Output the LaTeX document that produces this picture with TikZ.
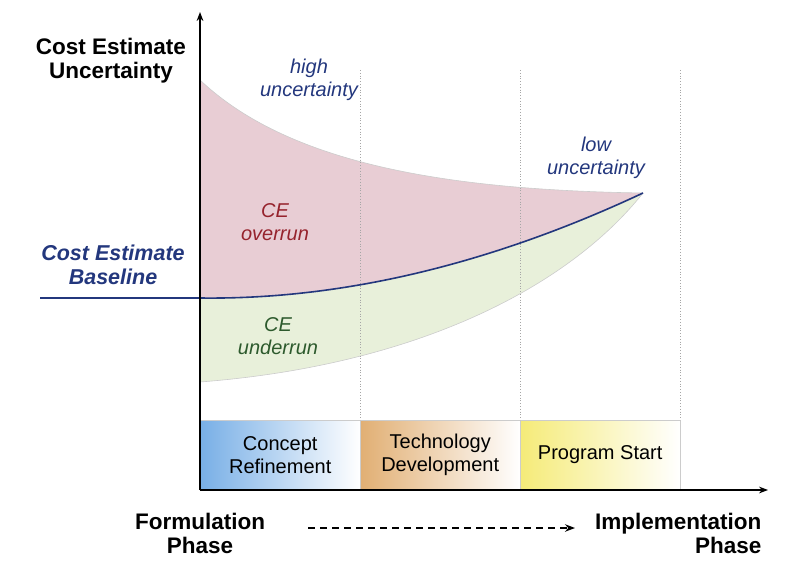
\documentclass[tikz,border=0pt]{standalone}
\usepackage{fontspec}
\setmainfont{Liberation Sans}
\usetikzlibrary{arrows.meta}
\definecolor{navy}{RGB}{35,55,125}
\definecolor{ovr}{RGB}{150,35,45}
\definecolor{und}{RGB}{45,90,45}
\definecolor{pinkf}{RGB}{232,205,212}
\definecolor{greenf}{RGB}{232,240,218}
\definecolor{bluesh}{RGB}{120,175,230}
\definecolor{orsh}{RGB}{225,175,115}
\definecolor{yesh}{RGB}{245,235,120}
\tikzset{
  lab/.style={font=\bfseries\fontsize{22.5}{24}\selectfont, align=center},
  it/.style={font=\itshape\fontsize{20}{23}\selectfont, align=center},
  phase/.style={draw=gray!40, minimum width=160pt, minimum height=70pt, anchor=south west, inner sep=0pt, align=center, font=\fontsize{20}{23}\selectfont},
  grid/.style={gray!70, dotted, line width=0.8pt}
}
\begin{document}
\begin{tikzpicture}[x=1pt,y=-1pt]
\useasboundingbox (0,0) rectangle (794,569);
% fills
\fill[pinkf] (200,80) .. controls (290,165) and (450,190) .. (643,193)
  .. controls (500,260) and (350,300) .. (200,298) -- cycle;
\fill[greenf] (200,298) .. controls (350,300) and (500,260) .. (643,193)
  .. controls (570,285) and (420,365) .. (200,382) -- cycle;
\draw[gray!40, line width=0.6pt] (200,80) .. controls (290,165) and (450,190) .. (643,193);
\draw[gray!40, line width=0.6pt] (200,382) .. controls (420,365) and (570,285) .. (643,193);
% phase boxes
\shade[left color=bluesh, right color=white] (200,420) rectangle (360,490);
\shade[left color=orsh, right color=white] (360,420) rectangle (520,490);
\shade[left color=yesh, right color=white] (520,420) rectangle (680,490);
\node[phase] (b1) at (200,490) {Concept\\Refinement};
\node[phase] (b2) at (360,490) {Technology\\Development};
\node[phase] (b3) at (520,490) {Program Start};
% dotted verticals
\foreach \x/\n in {360/a,520/b,680/c}{
  \coordinate (t\n) at (\x,70); \coordinate (u\n) at (\x,420);
  \draw[grid] (t\n) -- (u\n);}
% baseline
\coordinate (bl0) at (40,298);
\coordinate (bl1) at (200,298);
\coordinate (bl2) at (643,193);
\draw[navy, line width=1.6pt] (bl0) -- (bl1) .. controls (350,300) and (500,260) .. (bl2);
% axes
\coordinate (o) at (200,490);
\coordinate (ytop) at (200,12);
\coordinate (xend) at (768,490);
\draw[line width=1.4pt, -{Stealth[length=9pt]}] (o) -- (ytop);
\draw[line width=1.4pt, -{Stealth[length=9pt]}] (o) -- (xend);
% labels
\node[lab] (yl) at (111,61) {Cost Estimate\\Uncertainty};
\node[lab, font=\bfseries\itshape\fontsize{21.5}{24}\selectfont, text=navy] (cb) at (113,265) {Cost Estimate\\Baseline};
\node[it, text=navy] (hu) at (309,80) {high\\uncertainty};
\node[it, text=navy] (lu) at (596,158) {low\\uncertainty};
\node[it, text=ovr] (ov) at (275,222) {CE\\overrun};
\node[it, text=und] (un) at (278,336) {CE\\underrun};
\node[lab] (fp) at (200,533) {Formulation\\Phase};
\node[lab, align=right, anchor=east] (ip) at (765,533) {Implementation\\Phase};
\coordinate (da) at (308,528);
\coordinate (db) at (575,528);
\draw[line width=1.4pt, dash pattern=on 7pt off 5pt, -{Stealth[length=10pt]}] (da) -- (db);
\end{tikzpicture}
\end{document}
